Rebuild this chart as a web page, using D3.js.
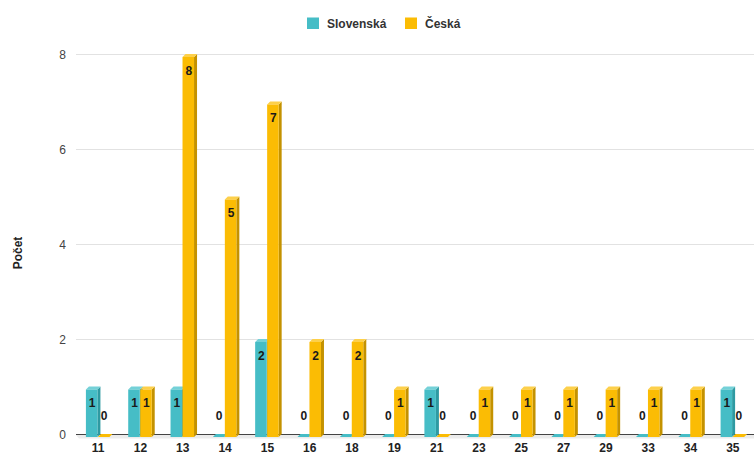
<!DOCTYPE html>
<html>
<head>
<meta charset="utf-8">
<script src="https://cdn.jsdelivr.net/npm/d3@7"></script>
<style>
  html, body { margin: 0; padding: 0; background: #fff; }
  svg { display: block; font-family: "Liberation Sans", Arial, sans-serif; }
</style>
</head>
<body>
<svg id="chart" width="754" height="455"></svg>
<script>
// Category labels along the x axis
const categories = ["11","12","13","14","15","16","18","19","21","23","25","27","29","33","34","35"];
// Counts per category for each series
const slovenska = [1,1,1,0,2,0,0,0,1,0,0,0,0,0,0,1];
const ceska     = [0,1,8,5,7,2,2,1,0,1,1,1,1,1,1,0];
const seriesNames = ["Slovenská", "Česká"];
const yTicks = [0, 2, 4, 6, 8];
const yTitle = "Počet";

const palette = [
  { front: "#46bdc6", side: "#2e9aa2", top: "#74d1d8" },
  { front: "#fbbc04", side: "#c49200", top: "#fdd04a" }
];

const svg = d3.select("#chart");
const W = 754, H = 455;
const left = 77, right = 754;
const depth = 3;
const frontShift = 2.5; // front faces sit slightly in front of the back wall gridlines

const x = d3.scaleBand().domain(categories).range([left, right]).paddingInner(0).paddingOuter(0);
const inner = d3.scaleBand().domain([0, 1]).range([0, 23.5]).paddingInner(0.04);
const y = d3.scaleLinear().domain([0, 8]).range([434.5, 54.5]);

// Gridlines
svg.append("g").selectAll("line").data(yTicks).join("line")
  .attr("x1", 76).attr("x2", W)
  .attr("y1", d => y(d)).attr("y2", d => y(d))
  .attr("stroke", d => d === 0 ? "none" : "#e2e2e2").attr("stroke-width", 1.2);

// Floor below the baseline
svg.append("polygon")
  .attr("points", [[76, y(0) + 0.5], [W, y(0) + 0.5], [W, y(0) + 4], [79, y(0) + 4]].map(p => p.join(",")).join(" "))
  .attr("fill", "#ececec");

// Baseline
svg.append("line").attr("x1", 76).attr("x2", W).attr("y1", y(0)).attr("y2", y(0))
  .attr("stroke", "#444").attr("stroke-width", 1);

// Y tick labels
svg.append("g").selectAll("text").data(yTicks).join("text")
  .attr("x", 66).attr("y", d => y(d) + 4.3)
  .attr("text-anchor", "end").attr("font-size", 12).attr("fill", "#444")
  .text(d => d);

// Y axis title
svg.append("text")
  .attr("transform", "translate(22,253) rotate(-90)")
  .attr("text-anchor", "middle").attr("font-size", 12).attr("font-weight", "bold").attr("fill", "#222")
  .text(yTitle);

// Bars, drawn left to right so later faces overlap earlier side faces
const bars = [];
categories.forEach((c, i) => {
  [slovenska[i], ceska[i]].forEach((v, s) => bars.push({ c, v, s }));
});

const barW = inner.bandwidth();
const gBars = svg.append("g");
bars.forEach(b => {
  const x0 = x(b.c) + (x.bandwidth() - 23.5) / 2 - 0.5 + inner(b.s);
  const x1 = x0 + barW;
  const yt = y(b.v) + frontShift, yb = y(0) + frontShift;
  const col = palette[b.s];
  const g = gBars.append("g");
  if (b.v > 0) {
    g.append("polygon")
      .attr("points", [[x1, yt], [x1 + depth, yt - depth], [x1 + depth, yb - depth], [x1, yb]].map(p => p.join(",")).join(" "))
      .attr("fill", col.side);
  }
  g.append("polygon")
    .attr("points", [[x0, yt], [x0 + depth, yt - depth], [x1 + depth, yt - depth], [x1, yt]].map(p => p.join(",")).join(" "))
    .attr("fill", b.v > 0 ? col.top : col.front);
  if (b.v > 0) {
    g.append("rect").attr("x", x0).attr("y", yt).attr("width", barW).attr("height", yb - yt)
      .attr("fill", col.front);
  }
  // Value label: inside the bar top, or above the baseline for zero
  g.append("text")
    .attr("x", x0 + barW / 2 + 0.5)
    .attr("y", b.v > 0 ? y(b.v) + 20 : y(0) - 15)
    .attr("text-anchor", "middle").attr("font-size", 12).attr("font-weight", "bold").attr("fill", "#1a1a1a")
    .text(b.v);
});

// X tick labels
svg.append("g").selectAll("text").data(categories).join("text")
  .attr("x", d => x(d) + x.bandwidth() / 2)
  .attr("y", 451.5)
  .attr("text-anchor", "middle").attr("font-size", 12).attr("font-weight", "bold").attr("fill", "#222")
  .text(d => d);

// Legend
const legend = svg.append("g");
const legendItems = [{ x: 307, label: seriesNames[0], s: 0 }, { x: 405, label: seriesNames[1], s: 1 }];
legendItems.forEach(it => {
  legend.append("rect").attr("x", it.x).attr("y", 17.5).attr("width", 12).attr("height", 11.5)
    .attr("fill", palette[it.s].front);
  legend.append("text").attr("x", it.x + 20).attr("y", 27.5)
    .attr("font-size", 12).attr("font-weight", "bold").attr("fill", "#333")
    .text(it.label);
});
</script>
</body>
</html>
